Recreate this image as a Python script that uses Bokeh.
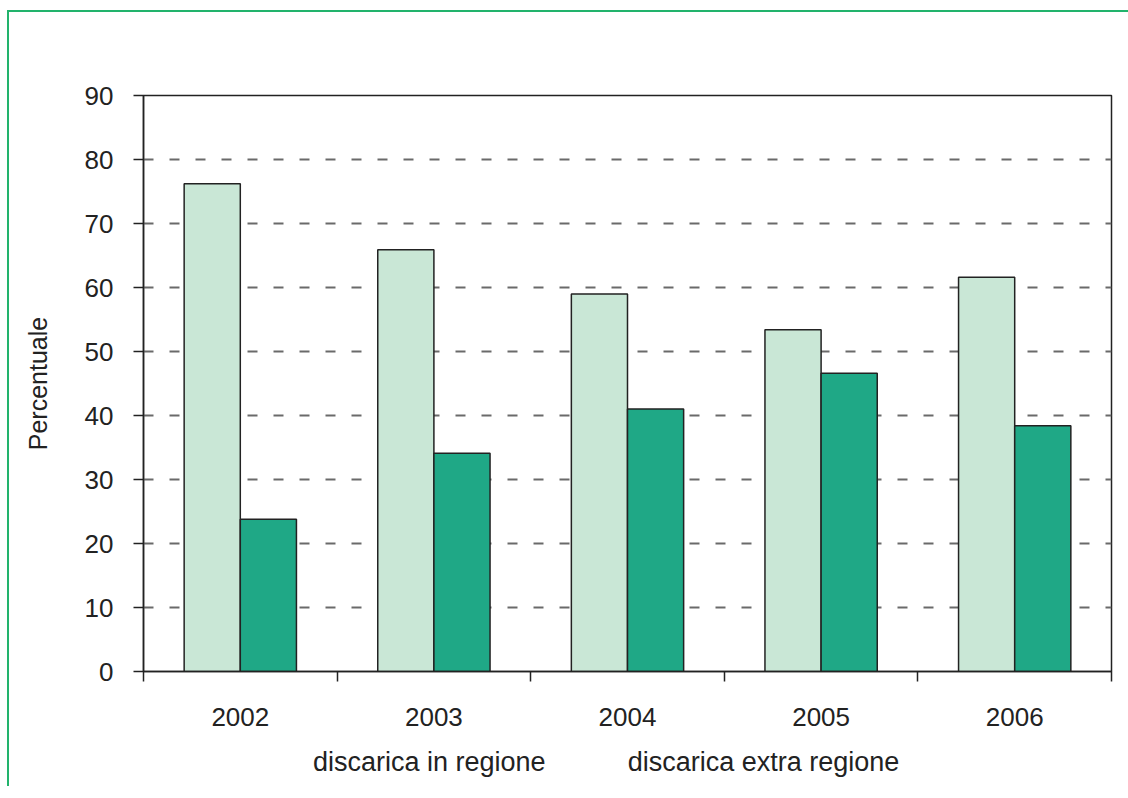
from bokeh.plotting import figure
from bokeh.layouts import column
from bokeh.models import (FixedTicker, Legend, LegendItem, Range1d, ColumnDataSource,
                          CDSView, IndexFilter)
from bokeh.embed import file_html
from bokeh.resources import INLINE

# Share of waste sent to landfill, inside vs outside the region (%)
years = ["2002", "2003", "2004", "2005", "2006"]
in_regione = [76.2, 65.9, 59.0, 53.4, 61.6]
extra_regione = [23.8, 34.1, 41.0, 46.6, 38.4]
y_ticks = [0, 10, 20, 30, 40, 50, 60, 70, 80, 90]
series_labels = ["discarica in regione", "discarica extra regione"]

LIGHT = "#c9e7d6"
DARK = "#1fa886"
FONT = "Liberation Sans"
TXT = "#222222"
INK = "#222222"

bar_w = 0.29
centers = [i + 0.5 for i in range(len(years))]
src_in = ColumnDataSource(dict(x=[c - bar_w / 2 for c in centers], top=in_regione))
src_ex = ColumnDataSource(dict(x=[c + bar_w / 2 for c in centers], top=extra_regione))

p = figure(
    frame_width=968, frame_height=576,
    x_range=Range1d(0, len(years)), y_range=Range1d(0, 90),
    output_backend="svg", toolbar_location=None,
    min_border_left=134, min_border_right=17, min_border_top=83, min_border_bottom=70,
)
p.outline_line_color = INK
p.outline_line_width = 1.5
p.background_fill_color = "white"
p.border_fill_color = "white"

bar_style = dict(width=bar_w, bottom=0, line_color=INK, line_width=1.5)
p.vbar(x="x", top="top", source=src_in, fill_color=LIGHT, **bar_style)
p.vbar(x="x", top="top", source=src_ex, fill_color=DARK, **bar_style)

# grid: dashed lines on inner ticks only
p.xgrid.visible = False
p.ygrid.ticker = FixedTicker(ticks=y_ticks[1:-1])
p.ygrid.grid_line_color = "#6a6a6a"
p.ygrid.grid_line_dash = "10 16"
p.ygrid.grid_line_width = 2

# y axis
ya = p.yaxis[0]
ya.ticker = FixedTicker(ticks=y_ticks)
ya.major_tick_out = 10
ya.major_tick_in = 0
ya.major_tick_line_color = INK
ya.major_tick_line_width = 1.5
ya.axis_line_color = INK
ya.axis_line_width = 1.5
ya.major_label_text_font = FONT
ya.major_label_text_font_size = "26px"
ya.major_label_text_color = TXT
ya.major_label_standoff = 20
ya.axis_label = "Percentuale"
ya.axis_label_text_font = FONT
ya.axis_label_text_font_size = "25px"
ya.axis_label_text_font_style = "normal"
ya.axis_label_text_color = TXT
ya.axis_label_standoff = 30

# x axis: labels centred in each group, ticks at group boundaries
xa = p.xaxis[0]
xa.ticker = FixedTicker(ticks=centers, minor_ticks=list(range(len(years) + 1)))
xa.major_label_overrides = {c: y for c, y in zip(centers, years)}
xa.major_tick_out = 0
xa.major_tick_in = 0
xa.minor_tick_out = 10
xa.minor_tick_in = 0
xa.minor_tick_line_color = INK
xa.minor_tick_line_width = 1.5
xa.axis_line_color = INK
xa.axis_line_width = 1.5
xa.major_label_text_font = FONT
xa.major_label_text_font_size = "26px"
xa.major_label_text_color = TXT
xa.major_label_standoff = 26

# legend strip under the chart; its swatch renderers share the bar data but
# render no rows themselves, so only the legend entries are shown
leg = figure(
    width=1119, height=45, x_range=Range1d(100, 101), y_range=Range1d(0, 1),
    output_backend="svg", toolbar_location=None, min_border=0,
)
leg.axis.visible = False
leg.grid.visible = False
leg.outline_line_color = None
leg.background_fill_color = "white"
leg.border_fill_color = "white"
no_rows = CDSView(filter=IndexFilter(indices=[]))
sw_in = leg.vbar(x="x", top="top", source=src_in, view=no_rows, fill_color=LIGHT, **bar_style)
sw_ex = leg.vbar(x="x", top="top", source=src_ex, view=CDSView(filter=IndexFilter(indices=[])),
                 fill_color=DARK, **bar_style)

legend = Legend(
    items=[LegendItem(label=series_labels[0], renderers=[sw_in]),
           LegendItem(label=series_labels[1], renderers=[sw_ex])],
    orientation="horizontal", location=(153, 8),
    label_text_font=FONT, label_text_font_size="27px", label_text_color=TXT,
    glyph_width=14, glyph_height=14, label_standoff=3, spacing=65,
    border_line_alpha=0, background_fill_alpha=0, padding=0, margin=0,
)
leg.add_layout(legend)

layout = column(p, leg, spacing=0)
layout.styles = {
    "margin-left": "7px", "margin-top": "10px",
    "border-left": "2px solid #22b36c", "border-top": "2px solid #22b36c",
}

open("out.html", "w").write(file_html(layout, INLINE))
